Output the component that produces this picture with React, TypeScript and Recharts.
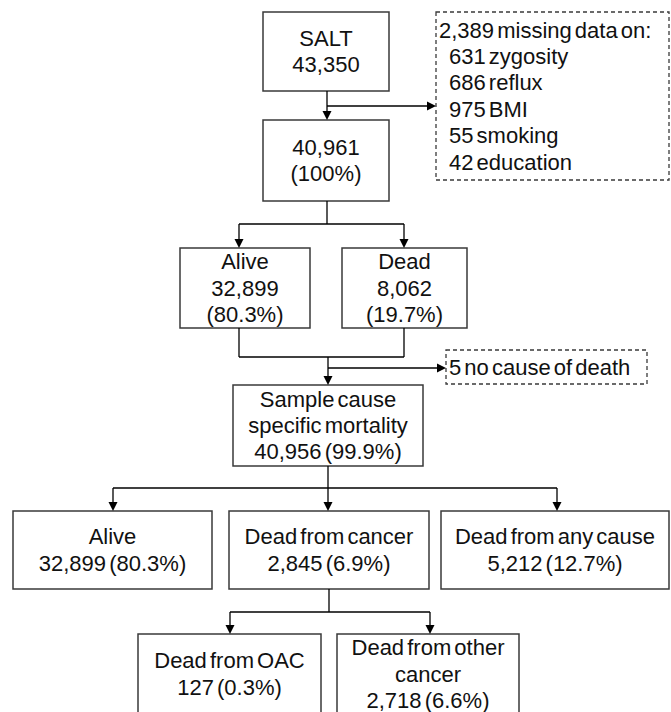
import React from "react";
import {
	ScatterChart,
	Scatter,
	XAxis,
	YAxis,
	ReferenceArea,
	ReferenceLine,
} from "recharts";

// flow stages: labels, counts, percentages of the 40,961 sample
const stageLabels = [
	"SALT",
	"",
	"Alive",
	"Dead",
	"Sample cause\nspecific mortality",
	"Alive",
	"Dead from cancer",
	"Dead from any cause",
	"Dead from OAC",
	"Dead from other\ncancer",
];
const stageCounts = [43350, 40961, 32899, 8062, 40956, 32899, 2845, 5212, 127, 2718];
const stagePercents = [null, 100, 80.3, 19.7, 99.9, 80.3, 6.9, 12.7, 0.3, 6.6];

const missingTotal = 2389;
const missingItems = ["zygosity", "reflux", "BMI", "smoking", "education"];
const missingCounts = [631, 686, 975, 55, 42];
const noCauseCount = 5;

const W = 671;
const H = 712;
const FONT = "'Liberation Sans', Arial, sans-serif";
const LINE_H = 26.4;

// layout: box edges in chart units, and whether the percent goes on its own line
const boxLayout = [
	{ x1: 263, x2: 389, y1: 12, y2: 91, split: true },
	{ x1: 263, x2: 389, y1: 120, y2: 201, split: true },
	{ x1: 180, x2: 310, y1: 248, y2: 328, split: true },
	{ x1: 342, x2: 467, y1: 248, y2: 328, split: true },
	{ x1: 233, x2: 423, y1: 385, y2: 466, split: false },
	{ x1: 13, x2: 212, y1: 511, y2: 589, split: false },
	{ x1: 229, x2: 429, y1: 511, y2: 589, split: false },
	{ x1: 441, x2: 669, y1: 511, y2: 589, split: false },
	{ x1: 138, x2: 321, y1: 634, y2: 714, split: false },
	{ x1: 337, x2: 519, y1: 634, y2: 714, split: false },
];
const missingBox = { x1: 436, x2: 669, y1: 12, y2: 180 };
const noCauseBox = { x1: 446, x2: 647, y1: 350, y2: 384 };

const connectors = [
	[[327, 91], [327, 116]],
	[[327, 106], [432, 106]],
	[[327, 201], [327, 224]],
	[[239, 224], [404, 224]],
	[[239, 224], [239, 244]],
	[[404, 224], [404, 244]],
	[[239, 328], [239, 357]],
	[[404, 328], [404, 357]],
	[[239, 357], [404, 357]],
	[[328, 357], [328, 381]],
	[[328, 368], [442, 368]],
	[[328, 466], [328, 488]],
	[[113, 488], [557, 488]],
	[[113, 488], [113, 507]],
	[[328, 488], [328, 507]],
	[[557, 488], [557, 507]],
	[[329, 589], [329, 612]],
	[[230, 612], [430, 612]],
	[[230, 612], [230, 630]],
	[[430, 612], [430, 630]],
];

const arrowHeads = [
	{ x: 327, y: 120, dir: "down" },
	{ x: 436, y: 106, dir: "right" },
	{ x: 239, y: 248, dir: "down" },
	{ x: 404, y: 248, dir: "down" },
	{ x: 328, y: 385, dir: "down" },
	{ x: 446, y: 368, dir: "right" },
	{ x: 113, y: 511, dir: "down" },
	{ x: 328, y: 511, dir: "down" },
	{ x: 557, y: 511, dir: "down" },
	{ x: 230, y: 634, dir: "down" },
	{ x: 430, y: 634, dir: "down" },
];

const fmt = (n: number) => n.toLocaleString("en-US");
const fmtPct = (p: number) => `(${p === 100 ? "100" : p.toFixed(1)}%)`;

function stageLines(i: number): string[] {
	const lines = stageLabels[i] ? stageLabels[i].split("\n") : [];
	const count = fmt(stageCounts[i]);
	const p = stagePercents[i];
	if (p == null) return [...lines, count];
	if (boxLayout[i].split) return [...lines, count, fmtPct(p)];
	return [...lines, `${count} ${fmtPct(p)}`];
}

const missingLines = [
	`${fmt(missingTotal)} missing data on:`,
	...missingItems.map((item, i) => `${missingCounts[i]} ${item}`),
];

const textContent =
	(lines: string[], align: "center" | "left") =>
	(props: any) => {
		const vb = props.viewBox || {};
		const { x = 0, y = 0, width = 0, height = 0 } = vb;
		const top = y + height / 2 - ((lines.length - 1) * LINE_H) / 2;
		return (
			<g>
				{lines.map((l, k) => (
					<text
						key={k}
						x={align === "center" ? x + width / 2 : x + (k === 0 ? 3 : 13)}
						y={top + k * LINE_H}
						textAnchor={align === "center" ? "middle" : "start"}
						dominantBaseline="central"
						fontFamily={FONT}
						fontSize={22}
						wordSpacing={-3}
						fill="#111">
						{l}
					</text>
				))}
			</g>
		);
	};

const Arrow = (props: any) => {
	const { cx, cy, payload } = props;
	if (cx == null || cy == null) return null;
	const pts =
		payload.dir === "down"
			? `${cx - 4.5},${cy - 9} ${cx + 4.5},${cy - 9} ${cx},${cy}`
			: `${cx - 9},${cy - 4.5} ${cx - 9},${cy + 4.5} ${cx},${cy}`;
	return <polygon points={pts} fill="#000" />;
};

export default function App() {
	return (
		<div style={{ position: "absolute", left: 0, top: 0, background: "#fff" }}>
			<ScatterChart
				width={W}
				height={H}
				margin={{ top: 0, right: 0, bottom: 0, left: 0 }}>
				<XAxis
					type="number"
					dataKey="x"
					domain={[0, W]}
					allowDataOverflow
					hide
				/>
				<YAxis
					type="number"
					dataKey="y"
					domain={[0, H]}
					reversed
					allowDataOverflow
					hide
				/>
				{connectors.map((seg, i) => (
					<ReferenceLine
						key={`c-${i}`}
						segment={[
							{ x: seg[0][0], y: seg[0][1] },
							{ x: seg[1][0], y: seg[1][1] },
						]}
						stroke="#000"
						strokeWidth={1.3}
						ifOverflow="visible"
					/>
				))}
				{boxLayout.map((b, i) => (
					<ReferenceArea
						key={`b-${i}`}
						x1={b.x1}
						x2={b.x2}
						y1={b.y1}
						y2={b.y2}
						fill="#fff"
						fillOpacity={1}
						stroke="#3a3a3a"
						strokeWidth={1.5}
						ifOverflow="visible"
						label={{ content: textContent(stageLines(i), "center") }}
					/>
				))}
				<ReferenceArea
					x1={missingBox.x1}
					x2={missingBox.x2}
					y1={missingBox.y1}
					y2={missingBox.y2}
					fill="#fff"
					fillOpacity={1}
					stroke="#3a3a3a"
					strokeWidth={1.3}
					strokeDasharray="4 3"
					ifOverflow="visible"
					label={{ content: textContent(missingLines, "left") }}
				/>
				<ReferenceArea
					x1={noCauseBox.x1}
					x2={noCauseBox.x2}
					y1={noCauseBox.y1}
					y2={noCauseBox.y2}
					fill="#fff"
					fillOpacity={1}
					stroke="#3a3a3a"
					strokeWidth={1.3}
					strokeDasharray="4 3"
					ifOverflow="visible"
					label={{
						content: textContent([`${noCauseCount} no cause of death`], "left"),
					}}
				/>
				<Scatter
					data={arrowHeads}
					shape={<Arrow />}
					isAnimationActive={false}
				/>
			</ScatterChart>
		</div>
	);
}
